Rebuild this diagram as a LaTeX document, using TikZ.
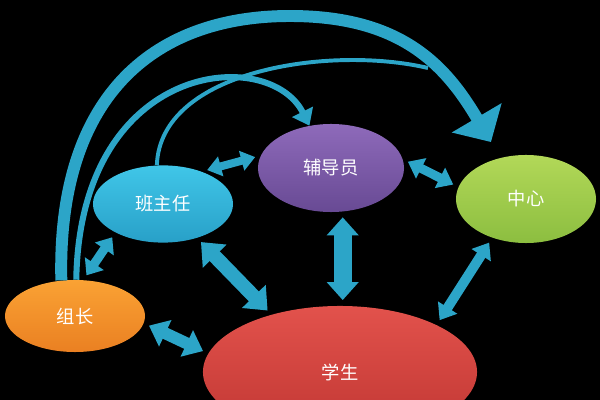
\documentclass[tikz,border=0pt]{standalone}
\usepackage{fontspec}
\newfontfamily\cjk{Noto Sans CJK SC}
\usepackage{xcolor}
\usepackage{tikz}
\usetikzlibrary{arrows.meta,shapes.geometric,calc}

\definecolor{linkblue}{RGB}{44,165,200}
\definecolor{bzrtop}{RGB}{64,198,232}
\definecolor{bzrbot}{RGB}{40,160,200}
\definecolor{fdytop}{RGB}{142,106,186}
\definecolor{fdybot}{RGB}{104,74,148}
\definecolor{zxtop}{RGB}{178,216,88}
\definecolor{zxbot}{RGB}{140,190,64}
\definecolor{zztop}{RGB}{250,162,52}
\definecolor{zzbot}{RGB}{234,128,34}
\definecolor{xstop}{RGB}{226,82,76}
\definecolor{xsbot}{RGB}{192,54,50}

\begin{document}
\begin{tikzpicture}[x=0.025cm, y=-0.025cm, every node/.style={font=\cjk\fontsize{13}{15}\selectfont, text=white},
  role/.style={ellipse, inner sep=0pt},
  link/.style n args={3}{line width=#1pt, linkblue, {Triangle[width=#2pt,length=#3pt]}-{Triangle[width=#2pt,length=#3pt]}, shorten <=4pt, shorten >=4pt},
  bend/.style={linkblue, line width=#1pt}]

\useasboundingbox (0,0) rectangle (600,400);
\clip (0,0) rectangle (600,400);
\fill[black] (0,0) rectangle (600,400);

\node[role, top color=bzrtop, bottom color=bzrbot, minimum width=3.5cm, minimum height=1.93cm] (banzhuren) at (163,204) {班主任};

\node[role, top color=fdytop, bottom color=fdybot, minimum width=3.65cm, minimum height=2.2cm] (fudaoyuan) at (331,168) {辅导员};

\node[role, top color=zxtop, bottom color=zxbot, minimum width=3.5cm, minimum height=2.2cm] (zhongxin) at (526,199) {中心};

\node[role, top color=zztop, bottom color=zzbot, minimum width=3.5cm, minimum height=1.8cm] (zuzhang) at (75,316) {组长};

\node[role, top color=xstop, bottom color=xsbot, minimum width=6.85cm, minimum height=3.3cm] (xuesheng) at (340,372) {学生};

% two-way links
\draw[link={5.7}{14}{10}] (banzhuren.40) -- (fudaoyuan.170);
\draw[link={6.4}{15.6}{10.6}] (fudaoyuan.7) -- (zhongxin.170);
\draw[link={6.4}{15.6}{10}] (banzhuren.211) -- (zuzhang.77);
\draw[link={10}{22.7}{14}] (banzhuren.315) -- (xuesheng.140);
\draw[link={8.5}{20}{12.8}] (zuzhang.354) -- (xuesheng.172);
\draw[link={12.5}{22}{12.8}] (fudaoyuan.285) -- (fudaoyuan.285 |- xuesheng.north);
\draw[link={7}{15.6}{10.6}] (zhongxin.229) -- (xuesheng.26);

% curved links over the top
\coordinate (arctop) at (290,16);
\coordinate (merge) at (428,68);

\draw[bend=2.8] (banzhuren.99) .. controls (160,70) and (330,45) .. (merge);

\draw[bend=4.3, -{Triangle[width=16pt,length=11pt]}] (zuzhang.88) .. controls (80,60) and (269,45) .. (fudaoyuan.117);

\draw[bend=8.5, -{Triangle[width=40pt,length=20pt]}, shorten >=13pt] (zuzhang.111) .. controls (57,100) and (150,16) .. (arctop) .. controls (400,16) and (445,64) .. (zhongxin.122);

\end{tikzpicture}
\end{document}
